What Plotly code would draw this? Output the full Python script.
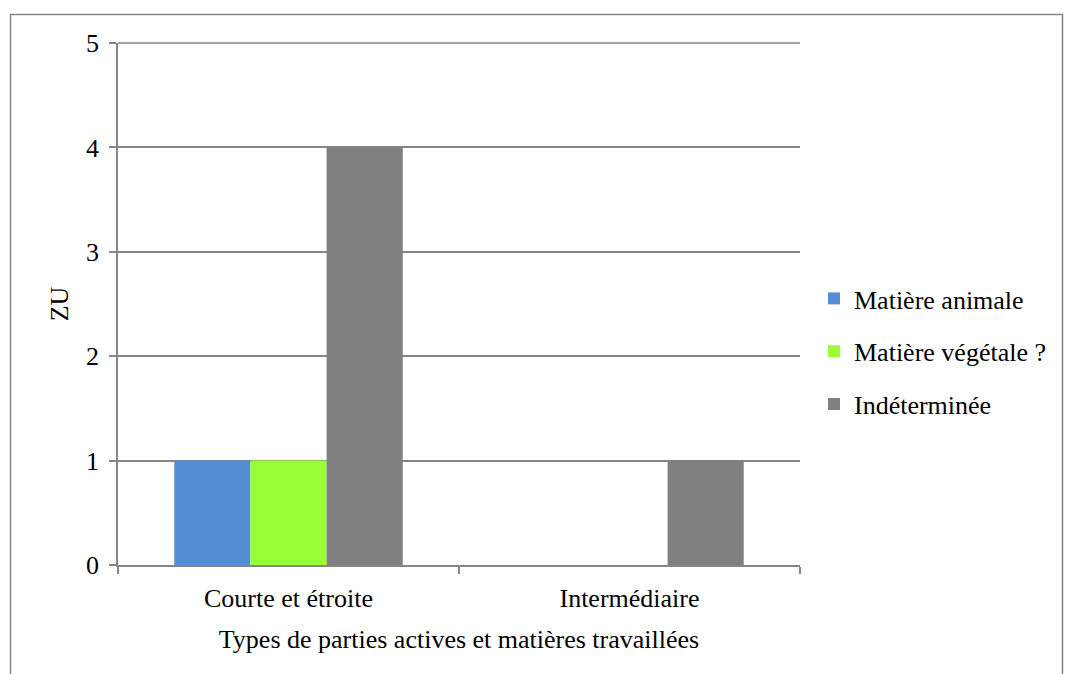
import plotly.graph_objects as go

categories = ["Courte et étroite", "Intermédiaire"]
series_names = ["Matière animale", "Matière végétale ?", "Indéterminée"]
animale = [1, None]
vegetale = [1, None]
indeterminee = [4, 1]
colors = ["#558ED5", "#99FF33", "#808080"]

FONT = "Liberation Serif, Times New Roman, serif"
FS = 26

fig = go.Figure()
for i, (name, vals) in enumerate(zip(series_names, [animale, vegetale, indeterminee])):
    fig.add_trace(go.Bar(
        x=categories, y=vals, name=name, marker_color=colors[i],
        marker_line_width=0, legendgroup=f"g{i}",
    ))

# page has an 8px body margin; figure coordinates = page - 8
OFF = 8
W, H = 1072 - OFF, 674 - OFF
L, R, T, B = 118 - OFF, 800 - OFF, 43 - OFF, 565 - OFF
pw, ph = R - L, B - T

def px_to_paper_x(x):
    return (x - OFF - L) / pw

def px_to_paper_y(y):
    return (B - (y - OFF)) / ph

fig.update_layout(
    width=W, height=H,
    margin=dict(l=L, r=W - R, t=T, b=H - B, pad=0),
    paper_bgcolor="white", plot_bgcolor="white",
    barmode="group", bargap=0.33, bargroupgap=0,
    font=dict(family=FONT, size=FS, color="black"),
    showlegend=True,
    legend=dict(
        x=px_to_paper_x(814), y=px_to_paper_y(275), xanchor="left", yanchor="top",
        font=dict(family=FONT, size=FS, color="black"),
        tracegroupgap=16, itemwidth=30, bgcolor="rgba(0,0,0,0)",
    ),
    xaxis=dict(
        type="category", tickson="boundaries", ticks="outside", ticklen=7,
        tickcolor="#868686", tickwidth=1.5,
        showline=True, linecolor="#868686", linewidth=1.5,
        showgrid=False, zeroline=False,
        tickfont=dict(family=FONT, size=FS), ticklabelstandoff=9,
        title=dict(text="Types de parties actives et matières travaillées",
                   font=dict(family=FONT, size=FS), standoff=18),
    ),
    yaxis=dict(
        range=[0, 5], dtick=1, ticks="outside", ticklen=7,
        tickcolor="#868686", tickwidth=1.5,
        showline=True, linecolor="#868686", linewidth=1.5,
        showgrid=True, gridcolor="#868686", gridwidth=1.5,
        zeroline=False,
        tickfont=dict(family=FONT, size=FS), ticklabelstandoff=5,
        title=dict(text="ZU", font=dict(family=FONT, size=FS), standoff=10),
    ),
    shapes=[
        dict(
            type="rect", xref="paper", yref="paper",
            x0=px_to_paper_x(10.5), x1=px_to_paper_x(1062.5),
            y0=px_to_paper_y(700), y1=px_to_paper_y(14.5),
            line=dict(color="#868686", width=1.5), fillcolor="rgba(0,0,0,0)",
            layer="below",
        ),
        # top gridline (Plotly omits the gridline at the range edge)
        dict(
            type="line", xref="paper", yref="paper", x0=0, x1=1, y0=1, y1=1,
            line=dict(color="#868686", width=1.5), layer="below",
        ),
    ],
)

fig.write_html("out.html")
